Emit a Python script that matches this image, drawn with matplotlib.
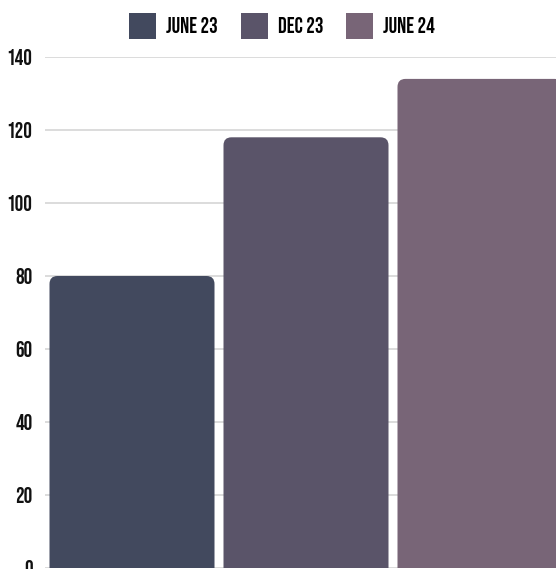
import matplotlib
matplotlib.use("Agg")
import matplotlib.pyplot as plt
from matplotlib.patches import FancyBboxPatch, Patch

categories = ["JUNE 23", "DEC 23", "JUNE 24"]
values = [80, 118, 134]
colors = ["#42495e", "#5a5469", "#786577"]
yticks = [0, 20, 40, 60, 80, 100, 120, 140]

plt.rcParams['font.family'] = ['Bebas Neue', 'Oswald', 'Barlow Condensed', 'DejaVu Sans']

W, H = 556, 569
fig = plt.figure(figsize=(W / 100, H / 100), dpi=100)
ax_left, ax_right = 45 / W, 567 / W
ax_bottom, ax_top = 1 - 568 / H, 1 - 57 / H
ax = fig.add_axes([ax_left, ax_bottom, ax_right - ax_left, ax_top - ax_bottom])

x = list(range(len(categories)))
bars = ax.bar(x, values, width=165 / 174, color=colors)
ax.set_xlim(-0.5, len(categories) - 0.5)
ax.set_ylim(0, 140)

# rounded top corners
px_per_x = 174.0
px_per_y = (568 - 57) / 140.0
r_px = 8
r = r_px / px_per_x
aspect = px_per_x / px_per_y
for b, c in zip(bars, colors):
    b.set_visible(False)
    ext = r * aspect * 1.5
    p = FancyBboxPatch((b.get_x(), b.get_y() - ext), b.get_width(), b.get_height() + ext,
                       boxstyle=f"round,pad=0,rounding_size={r}", mutation_aspect=aspect,
                       facecolor=c, edgecolor='none', zorder=3)
    ax.add_patch(p)

fs = 15.5
ax.set_yticks(yticks)
ax.set_yticklabels([str(t) for t in yticks], fontsize=fs, color='#111111')
ax.set_xticks([])
ax.tick_params(axis='y', length=0, pad=9)
ax.grid(axis='y', color='#d9d9d9', linewidth=1.3, zorder=0)
ax.set_axisbelow(True)
for s in ax.spines.values():
    s.set_visible(False)

fpx = fs * 100 / 72
handles = [Patch(facecolor=c, edgecolor='none', label=l) for c, l in zip(colors, categories)]
fig.legend(handles=handles, loc='center', bbox_to_anchor=(282 / W, 1 - 26 / H), ncol=3,
           frameon=False, fontsize=fs, handlelength=27 / fpx, handleheight=33 / fpx,
           handletextpad=10 / fpx, columnspacing=23 / fpx, borderaxespad=0, borderpad=0)

fig.savefig("out.png", dpi=100)
